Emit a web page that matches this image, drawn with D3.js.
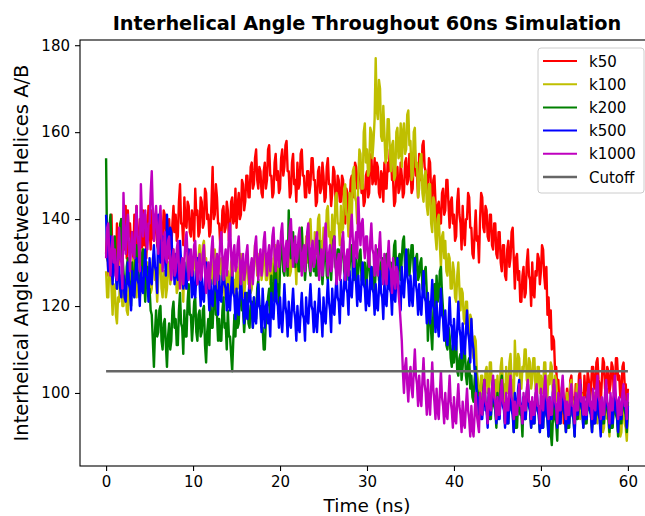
<!DOCTYPE html>
<html>
<head>
<meta charset="utf-8">
<script src="https://cdn.jsdelivr.net/npm/d3@7"></script>
<style>
  body { margin: 0; background: #fff; }
  svg { display: block; font-family: "DejaVu Sans", sans-serif; }
</style>
</head>
<body>
<svg id="chart" width="645" height="516"></svg>
<script>
// sampling grid: one value every 0.125 ns from 0 to 60 ns
const timeStep = 0.125

// interhelical angle (deg), 8 samples per ns (one group = 1 ns)
const k50 = [
  132,137,127,138,130,141,128,135, 134,127,139,126,136,131,140,129,
  140,133,143,131,142,136,139,134, 137,131,141,134,143,130,135,140,
  139,133,142,134,141,131,137,143, 138,133,142,136,135,141,140,134,
  133,139,131,137,136,142,141,135, 135,131,140,134,133,139,143,137,
  141,135,136,144,148,139,139,134, 145,139,138,144,143,137,136,142,
  140,135,147,141,142,136,137,145, 144,138,139,147,146,140,141,136,
  137,144,152,140,141,148,145,139, 139,134,135,142,143,137,138,144,
  142,135,136,144,145,139,140,147, 138,143,146,140,141,149,148,142,
  144,150,150,145,145,152,153,147, 148,154,156,149,147,152,151,146,
  145,151,153,147,149,156,157,150, 150,145,146,153,155,149,151,146,
  147,154,156,150,152,157,158,151, 151,145,146,153,155,148,149,144,
  153,147,148,155,156,150,150,145, 145,151,151,146,148,154,154,149,
  149,143,144,151,152,146,147,153, 150,144,145,152,154,148,148,143,
  146,152,151,145,143,150,149,144, 144,150,149,142,139,147,146,141,
  143,149,150,145,146,153,152,147, 147,153,153,146,148,143,144,150,
  151,145,146,154,155,148,149,154, 148,153,152,146,145,151,150,144,
  153,147,147,153,151,156,155,149, 149,143,144,151,152,146,147,153,
  150,145,146,153,154,148,149,155, 152,146,147,155,156,150,150,145,
  155,149,149,157,158,152,151,146, 148,154,153,146,143,149,150,144,
  136,143,144,139,139,146,147,141, 142,149,149,143,138,144,145,139,
  141,135,136,144,147,141,139,133, 143,137,134,140,140,146,145,138,
  138,132,131,137,142,135,136,130, 140,146,145,138,137,143,142,136,
  135,141,141,134,133,139,139,132, 131,137,137,130,128,134,134,127,
  126,133,135,129,131,137,138,131, 124,131,132,126,128,121,121,127,
  129,122,123,130,133,127,126,120, 130,123,122,128,127,132,131,125,
  128,134,133,127,124,129,118,122, 115,119,110,113,112,105,106,101,
  103,97,96,100,99,93,93,98, 101,96,97,103,104,99,99,95,
  102,97,98,104,105,100,100,96, 104,99,99,105,103,98,101,106,
  106,101,101,107,108,103,102,97, 103,108,107,101,100,106,105,100,
  102,107,106,100,101,108,108,103, 104,99,100,106,107,102,102,97,
  101
]
const k100 = [
  128,122,122,130,131,124,118,125, 124,118,116,122,121,127,127,120,
  120,126,126,119,118,124,129,123, 125,131,131,124,122,128,128,122,
  127,133,133,126,124,130,130,124, 129,123,124,131,132,126,127,121,
  126,132,131,124,122,128,128,122, 124,130,130,125,127,133,133,127,
  128,123,124,130,131,125,126,121, 130,124,125,132,133,127,128,123,
  127,132,132,126,125,131,134,128, 129,134,135,130,131,125,126,121,
  130,125,126,132,133,127,128,123, 125,130,131,126,127,122,123,128,
  128,123,124,130,131,125,126,121, 129,124,125,131,132,126,127,122,
  126,131,131,125,128,123,124,129, 129,134,133,127,127,132,131,126,
  128,133,132,126,126,131,130,125, 131,126,127,133,134,128,129,124,
  130,135,134,128,128,133,133,127, 132,127,128,135,136,130,131,125,
  134,129,130,137,138,132,133,128, 136,130,131,139,140,134,134,129,
  137,132,133,140,141,135,135,130, 138,133,134,142,143,136,137,132,
  141,135,136,145,146,139,139,134, 143,137,138,147,148,141,141,136,
  146,139,140,151,152,145,144,139, 149,156,155,147,147,160,162,153,
  156,150,151,161,160,154,158,163, 177,165,163,172,170,159,158,166,
  160,153,154,163,163,156,151,157, 158,149,150,160,161,154,155,162,
  152,160,162,155,156,164,165,157, 158,149,150,160,161,152,153,145,
  147,154,155,146,144,150,151,143, 141,148,148,139,137,145,144,136,
  133,140,141,134,129,136,137,131, 135,128,127,132,131,124,124,130,
  128,122,121,127,130,124,119,124, 123,117,116,121,121,114,113,118,
  117,110,108,113,112,105,103,99, 99,104,104,98,98,105,106,100,
  101,107,107,100,97,102,103,98, 104,99,99,106,108,102,102,97,
  106,100,100,107,109,103,103,98, 112,105,104,109,108,102,101,106,
  105,110,110,103,102,108,107,101, 103,108,108,101,100,106,106,100,
  104,100,101,107,107,100,99,104, 102,107,106,99,98,104,103,98,
  99,94,95,101,102,97,97,93, 100,95,96,102,103,97,98,94,
  97,102,101,95,94,100,99,94, 98,93,94,100,101,96,96,92,
  95,100,99,94,93,98,97,92, 96,91,92,98,99,94,94,90,
  97,92,93,99,100,95,95,91, 94,90,91,96,98,93,92,89,
  96
]
const k200 = [
  154,131,130,138,141,133,127,134, 136,129,124,131,133,139,140,132,
  128,123,122,129,131,126,125,120, 130,125,124,131,134,128,127,122,
  126,132,133,126,121,127,129,123, 124,119,118,112,106,114,119,113,
  114,119,120,112,110,116,117,111, 106,113,116,110,112,119,121,115,
  117,111,111,119,123,116,115,109, 119,113,113,121,125,118,118,112,
  116,121,122,114,112,118,119,113, 114,119,120,111,107,114,117,111,
  121,115,115,122,124,118,118,112, 117,112,112,119,122,115,116,110,
  119,113,113,109,105,112,118,113, 121,115,116,123,125,119,119,114,
  118,123,123,116,115,120,121,115, 122,117,117,124,126,120,120,115,
  115,110,110,117,119,122,124,118, 127,121,122,129,131,125,125,120,
  129,134,135,128,127,132,133,127, 142,133,131,136,137,130,129,134,
  134,128,128,136,138,131,131,126, 130,135,136,129,127,133,133,128,
  132,127,127,134,135,129,130,125, 129,133,134,127,126,131,132,126,
  131,135,136,129,128,133,133,127, 130,134,135,128,127,131,132,126,
  129,133,134,127,126,130,131,125, 128,132,133,126,125,129,130,124,
  127,131,132,125,124,128,129,123, 128,132,133,126,125,130,131,125,
  127,131,132,125,124,129,130,124, 129,134,135,127,126,131,132,126,
  131,135,136,129,127,132,133,127, 130,134,134,128,126,131,132,126,
  127,130,131,124,123,128,129,123, 112,118,121,114,110,118,125,119,
  127,121,122,128,129,123,119,114, 116,111,110,115,113,108,106,111,
  107,111,112,105,104,108,109,103, 106,110,110,104,102,107,108,101,
  104,99,98,103,106,101,100,95, 100,95,95,101,103,98,97,93,
  99,94,94,100,102,97,96,92, 100,95,95,102,104,98,97,93,
  98,93,93,99,101,96,96,91, 97,92,92,98,100,95,95,90,
  99,94,94,100,102,97,96,92, 98,93,93,99,101,96,95,91,
  97,92,92,98,100,95,94,90, 96,91,88,94,99,94,93,89,
  98,93,93,99,101,96,95,91, 97,92,92,98,100,95,94,90,
  99,94,94,100,102,97,96,92, 98,93,93,99,101,96,95,91,
  97,93,94,99,100,95,96,92, 98,93,93,99,101,96,95,91,
  96,92,92,97,99,95,94,90, 97,93,93,98,100,96,95,91,
  98
]
const k500 = [
  141,133,128,134,136,130,125,131, 132,127,124,129,129,124,122,127,
  127,122,121,126,130,125,124,119, 128,123,122,127,131,126,125,120,
  129,124,123,128,133,127,126,121, 131,126,125,130,134,129,128,123,
  141,134,130,135,136,131,132,127, 141,135,133,138,137,131,130,125,
  132,127,126,131,135,130,129,124, 130,125,124,129,133,128,127,122,
  128,123,122,127,131,126,125,120, 127,122,121,126,130,125,124,119,
  126,121,120,125,129,124,123,118, 127,122,121,126,131,125,124,119,
  125,120,119,124,128,123,122,117, 124,119,118,123,127,122,121,116,
  123,118,117,122,126,121,120,115, 122,117,116,121,125,120,119,114,
  124,119,115,120,121,116,118,113, 123,118,117,122,126,121,120,115,
  122,117,114,119,125,120,118,113, 121,116,115,120,124,119,117,112,
  120,115,114,119,123,118,117,112, 122,117,116,121,125,120,119,114,
  121,116,114,119,124,119,118,113, 122,117,116,121,126,121,119,114,
  124,119,118,123,127,122,121,116, 126,121,120,125,130,124,123,118,
  128,123,122,127,133,127,125,120, 127,122,121,126,130,125,124,119,
  126,121,120,125,129,124,123,118, 125,120,119,124,128,123,122,117,
  126,121,120,125,129,124,123,118, 127,122,121,126,131,125,124,119,
  129,124,122,127,133,127,125,120, 127,122,120,125,131,125,123,118,
  125,120,118,123,128,122,121,116, 123,118,116,121,126,120,119,114,
  121,116,113,118,124,118,117,112, 119,114,111,116,122,116,115,110,
  117,112,110,115,121,115,113,108, 116,111,109,114,119,114,112,107,
  117,112,110,105,104,99,99,95, 98,94,94,99,101,96,96,92,
  100,95,95,101,103,98,97,93, 99,94,94,100,102,97,96,92,
  98,93,93,99,101,96,95,91, 100,96,96,101,103,98,97,93,
  99,94,94,100,102,97,96,92, 98,93,93,99,101,96,95,91,
  97,92,92,98,100,95,94,90, 99,94,94,100,102,97,96,92,
  98,93,93,99,101,96,95,91, 97,93,93,98,100,95,94,90,
  99,95,95,100,102,97,96,92, 98,94,94,99,101,96,95,91,
  97,93,93,98,100,95,94,90, 98,94,94,99,101,97,96,92,
  97,93,93,98,100,96,95,91, 98,94,94,99,101,97,96,92,
  97
]
const k1000 = [
  131,138,139,132,127,133,136,130, 133,127,126,132,138,131,130,124,
  146,137,132,138,141,134,128,134, 137,132,131,138,143,136,134,128,
  148,140,136,141,142,135,133,139, 139,146,151,142,135,140,143,137,
  132,139,143,136,128,133,137,131, 130,135,136,129,126,131,133,127,
  128,133,135,129,124,129,131,125, 130,135,137,131,126,131,133,127,
  129,134,135,129,125,130,132,126, 127,132,134,128,123,128,130,124,
  128,133,136,130,125,130,132,126, 130,135,137,131,126,131,133,127,
  131,136,139,132,127,132,134,128, 129,134,136,130,125,130,132,126,
  128,132,134,128,124,129,131,125, 129,134,136,130,126,131,133,127,
  130,135,137,131,127,132,134,128, 131,136,138,132,128,133,135,129,
  132,137,139,133,128,133,135,129, 133,138,140,134,129,134,136,130,
  131,136,138,132,127,132,134,128, 132,137,139,133,128,133,135,129,
  130,135,137,131,126,131,133,127, 131,136,139,132,127,132,134,128,
  129,134,136,130,125,130,132,126, 130,135,137,131,126,131,133,127,
  133,138,141,135,129,134,137,131, 145,138,134,139,140,134,131,136,
  136,131,129,135,139,133,132,127, 134,129,127,133,137,131,130,125,
  132,127,125,131,135,129,128,123, 131,126,124,129,128,123,120,116,
  112,105,100,106,108,102,98,104, 106,101,99,105,110,104,102,97,
  104,99,97,103,108,102,100,95, 103,98,95,101,107,101,98,94,
  101,96,94,100,105,99,97,93, 100,95,94,99,104,98,96,92,
  99,94,93,98,102,97,95,91, 98,93,92,97,101,96,94,90,
  97,92,90,95,100,95,93,91, 100,96,95,100,103,98,97,93,
  101,97,96,101,104,99,98,94, 99,95,95,100,103,98,97,93,
  100,96,96,101,104,99,98,94, 98,95,95,99,102,97,97,93,
  100,96,96,101,103,98,98,94, 99,95,95,100,102,97,97,93,
  101,97,96,101,104,99,98,94, 99,95,95,100,103,98,97,93,
  100,96,96,101,104,99,98,94, 98,95,95,100,102,97,97,93,
  100,96,96,101,103,98,99,95, 99,95,95,100,102,97,98,94,
  101,97,96,101,104,99,98,94, 99,95,95,100,103,98,97,93,
  100,96,96,101,104,99,98,94, 99,95,95,100,102,97,98,94,
  100
]
const cutoffValue = 105
const cutoffRange = [0, 60]

const seriesNames = ['k50', 'k100', 'k200', 'k500', 'k1000']
const seriesColors = ['#ff0000', '#bfbf00', '#008000', '#0000ff', '#bf00bf']
const xTicks = [0, 10, 20, 30, 40, 50, 60]
const yTicks = [100, 120, 140, 160, 180]

const margin = { top: 40, right: -9, bottom: 50, left: 80 }
const svg = d3.select('#chart')
const svgWidth = 645
const svgHeight = 516
const width = svgWidth - margin.left - margin.right
const height = svgHeight - margin.top - margin.bottom

const x = d3.scaleLinear().domain([-3, 63]).range([0, width])
const y = d3.scaleLinear().domain([83.2, 181.2]).range([height, 0])

const g = svg.append('g').attr('transform', `translate(${margin.left},${margin.top})`)

g.append('clipPath').attr('id', 'plot-clip')
  .append('rect').attr('width', width).attr('height', height)

const line = d3.line()
  .x((d, i) => x(i * timeStep))
  .y(d => y(d))

const datasets = [k50, k100, k200, k500, k1000]
const plot = g.append('g').attr('clip-path', 'url(#plot-clip)')

plot.selectAll('path.series')
  .data(datasets)
  .enter()
  .append('path')
  .attr('class', 'series')
  .attr('d', d => line(d))
  .attr('fill', 'none')
  .attr('stroke', (d, i) => seriesColors[i])
  .attr('stroke-width', 2.4)
  .attr('stroke-linejoin', 'round')

// cutoff line on top
plot.append('line')
  .attr('x1', x(cutoffRange[0]))
  .attr('x2', x(cutoffRange[1]))
  .attr('y1', y(cutoffValue))
  .attr('y2', y(cutoffValue))
  .attr('stroke', '#666666')
  .attr('stroke-width', 2.6)

// axes
const xAxis = g.append('g')
  .attr('transform', `translate(0,${height})`)
  .call(d3.axisBottom(x).tickValues(xTicks).tickSize(5).tickPadding(5))
const yAxis = g.append('g')
  .call(d3.axisLeft(y).tickValues(yTicks).tickSize(5).tickPadding(5))

;[xAxis, yAxis].forEach(a => {
  a.select('.domain').remove()
  a.selectAll('.tick line').attr('stroke', '#000').attr('stroke-width', 1.1)
  a.selectAll('.tick text')
    .attr('fill', '#000')
    .style('font-size', '15px')
    .style('font-family', '"DejaVu Sans", sans-serif')
})

// frame
g.append('rect')
  .attr('width', width).attr('height', height)
  .attr('fill', 'none').attr('stroke', '#000').attr('stroke-width', 1.1)

// title & labels
svg.append('text')
  .attr('x', margin.left + width / 2).attr('y', 30)
  .attr('text-anchor', 'middle')
  .style('font-size', '19.3px').style('font-weight', 'bold')
  .text('Interhelical Angle Throughout 60ns Simulation')

svg.append('text')
  .attr('x', margin.left + width / 2).attr('y', 512)
  .attr('text-anchor', 'middle')
  .style('font-size', '18.5px')
  .text('Time (ns)')

svg.append('text')
  .attr('transform', `translate(28,${margin.top + height / 2}) rotate(-90)`)
  .attr('text-anchor', 'middle')
  .style('font-size', '19.5px')
  .text('Interhelical Angle between Helices A/B')

// legend
const legendNames = seriesNames.concat(['Cutoff'])
const legendColors = seriesColors.concat(['#666666'])
const legend = svg.append('g').attr('transform', 'translate(538,48)')
legend.append('rect')
  .attr('width', 106).attr('height', 145).attr('rx', 3)
  .attr('fill', '#fff').attr('fill-opacity', 0.8)
  .attr('stroke', '#cccccc')
const rows = legend.selectAll('g.row')
  .data(legendNames)
  .enter()
  .append('g')
  .attr('class', 'row')
  .attr('transform', (d, i) => `translate(0,${13 + i * 23.2})`)
rows.append('line')
  .attr('x1', 5).attr('x2', 39)
  .attr('stroke', (d, i) => legendColors[i])
  .attr('stroke-width', (d, i) => i === 5 ? 2.6 : 2)
rows.append('text')
  .attr('x', 51).attr('y', 5.5)
  .style('font-size', '15px')
  .text(d => d)
</script>
</body>
</html>
